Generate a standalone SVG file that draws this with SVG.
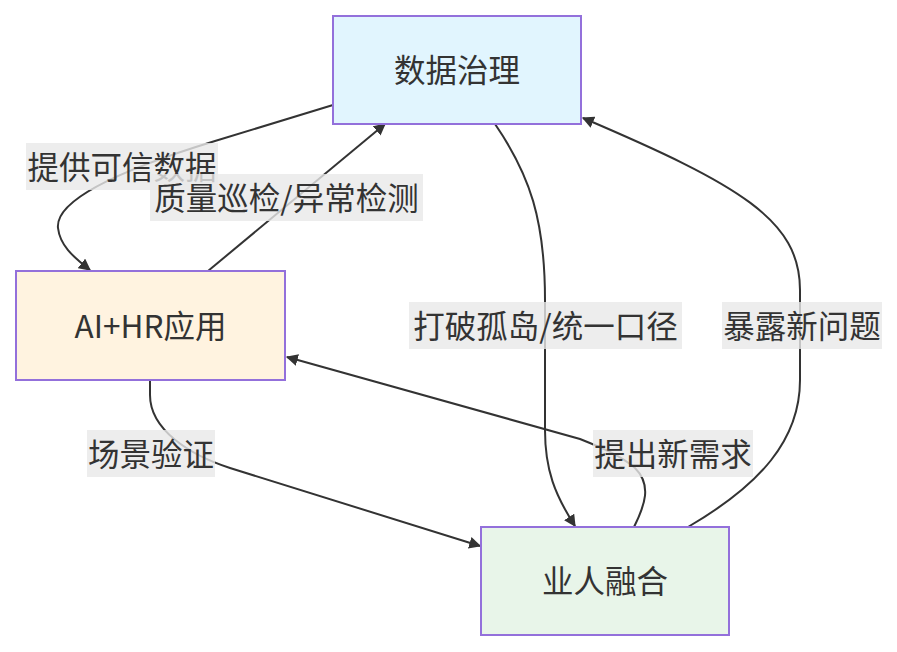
<svg xmlns="http://www.w3.org/2000/svg" width="897" height="652" viewBox="0 0 897 652">
<defs>
<marker id="arr" viewBox="0 0 10 10" refX="9" refY="5" markerWidth="12" markerHeight="12" markerUnits="userSpaceOnUse" orient="auto">
<path d="M0,0 L10,5 L0,10 z" fill="#333"/>
</marker>
<style>
.node rect{stroke:#9370DB;stroke-width:2}
.edge{fill:none;stroke:#333;stroke-width:2;marker-end:url(#arr)}
.lbl rect{fill:rgba(232,232,232,0.8)}
text{font-family:"Noto Sans CJK SC","Noto Sans",sans-serif;font-size:31.5px;fill:#333;text-anchor:middle;dominant-baseline:central}
</style>
</defs>
<rect width="897" height="652" fill="#fff"/>
<g id="connectors">
<path class="edge" d="M333,105 L215,141 C120,170 55,200 58,228 C60,245 72,256 90,270"/>
<path class="edge" d="M208,271 L385,124"/>
<path class="edge" d="M495,124 C530,175 545,220 545,300 L545,430 C545,470 555,495 575,526"/>
<path class="edge" d="M688,527 C760,485 800,440 800,380 L800,290 C800,220 740,185 583,118"/>
<path class="edge" d="M150,380 L150,395 C150,430 190,455 230,468 L480,546"/>
<path class="edge" d="M634,527 C645,505 652,485 635,468 C620,455 600,447 580,439 L287,357"/>
</g>
<g id="labels">
<g class="lbl"><rect x="26" y="143" width="192" height="47"/><text x="122" y="164.5">提供可信数据</text></g>
<g class="lbl"><rect x="150" y="174" width="273" height="47"/><text x="286.5" y="195.5">质量巡检/异常检测</text></g>
<g class="lbl"><rect x="409" y="302" width="273" height="47"/><text x="545.5" y="323.5">打破孤岛/统一口径</text></g>
<g class="lbl"><rect x="722" y="302" width="160" height="47"/><text x="802" y="323.5">暴露新问题</text></g>
<g class="lbl"><rect x="87" y="430" width="128" height="47"/><text x="151" y="451.5">场景验证</text></g>
<g class="lbl"><rect x="593" y="430" width="160" height="47"/><text x="673" y="451.5">提出新需求</text></g>
</g>
<g id="node-data" class="node"><rect x="333" y="16" width="248" height="108" fill="#e1f5fe"/><text x="457" y="68">数据治理</text></g>
<g id="node-aihr" class="node"><rect x="16" y="271" width="269" height="109" fill="#fff3e0"/><text x="150.5" y="323.5">AI+HR应用</text></g>
<g id="node-biz" class="node"><rect x="481" y="527" width="248" height="108" fill="#e8f5e9"/><text x="605" y="579">业人融合</text></g>
</svg>
